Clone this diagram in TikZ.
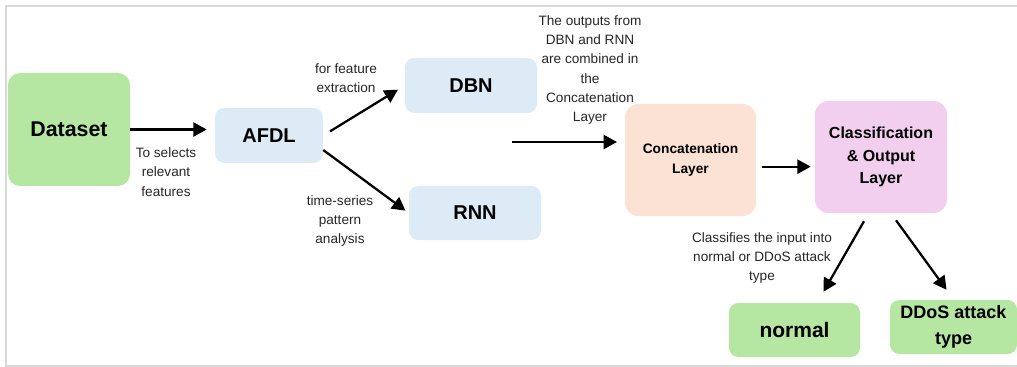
\documentclass[tikz,border=0pt]{standalone}
\usepackage{fontspec}
\setmainfont{Liberation Sans}
\usetikzlibrary{arrows.meta, positioning, calc}
\definecolor{boxgreen}{HTML}{B5E6A2}
\definecolor{boxblue}{HTML}{DDEBF7}
\definecolor{boxpeach}{HTML}{FBE2D5}
\definecolor{boxpink}{HTML}{F2CEEF}
\definecolor{framegray}{HTML}{D9D9D9}

\begin{document}
\begin{tikzpicture}[x=0.75pt, y=-0.75pt,
  box/.style={rounded corners=7pt, align=center, inner sep=0pt},
  arr/.style={-{Triangle[length=10pt,width=10.5pt]}, line width=1.7pt},
  lbl/.style={align=center, text=black!85, font={\fontsize{10.2}{14.5}\selectfont}}]
\useasboundingbox (0,0) rectangle (1017,367);
\draw[framegray, line width=1.5pt] (1017,6) -- (6,6) -- (6,366) -- (1017,366);

% boxes
\node[box, fill=boxgreen, rounded corners=9pt, minimum width=91.5pt, minimum height=84.75pt,
  font={\bfseries\fontsize{16}{19}\selectfont}] (dataset) at (69,129.5) {Dataset};
\node[box, fill=boxblue, minimum width=81pt, minimum height=41.25pt,
  font={\bfseries\fontsize{15}{18}\selectfont}] (afdl) at (269,135.5) {AFDL};
\node[box, fill=boxblue, minimum width=99pt, minimum height=41.25pt,
  font={\bfseries\fontsize{15}{18}\selectfont}] (dbn) at (471,85.5) {DBN};
\node[box, fill=boxblue, minimum width=99pt, minimum height=40.5pt,
  font={\bfseries\fontsize{15}{18}\selectfont}] (rnn) at (475,213) {RNN};
\node[box, fill=boxpeach, rounded corners=10pt, minimum width=98.25pt, minimum height=84pt,
  font={\bfseries\fontsize{10.3}{14.5}\selectfont}] (concat) at (690.5,160) {Concatenation\\Layer};
\node[box, fill=boxpink, rounded corners=10pt, minimum width=99pt, minimum height=84pt,
  font={\bfseries\fontsize{12}{17}\selectfont}] (class) at (881,157) {Classification\\\& Output\\Layer};
\node[box, fill=boxgreen, minimum width=98.25pt, minimum height=40.5pt,
  font={\bfseries\fontsize{15.75}{19}\selectfont}] (normal) at (794.5,330) {normal};
\node[box, fill=boxgreen, minimum width=95.25pt, minimum height=40.5pt,
  font={\bfseries\fontsize{13.5}{20}\selectfont}] (ddos) at (953.5,327) {DDoS attack\\type};

% labels
\node[lbl] (sellbl) at (166,172) {To selects\\relevant\\features};
\node[lbl] (featlbl) at (346,78) {for feature\\extraction};
\node[lbl] (tslbl) at (340,221) {time-series\\pattern\\analysis};
\node[lbl] (comblbl) at (590,70) {The outputs from\\DBN and RNN\\are combined in\\the\\Concatenation\\Layer};
\node[lbl] (clflbl) at (762,258) {Classifies the input into\\normal or DDoS attack\\type};

% arrows
\coordinate (midin) at (512,142);
\coordinate (midout) at (617,142);
\draw[arr, shorten >=6pt] (dataset.east) -- (dataset.east -| afdl.west);
\draw[arr, shorten <=6pt, shorten >=6pt] (afdl.east) -- (dbn.west);
\draw[arr, shorten >=3pt] (afdl.-15) -- (rnn.west);
\draw[arr] (midin) -- (midout);
\draw[arr, shorten <=4pt, shorten >=3pt] ([yshift=-5]concat.east) -- ([yshift=-5]concat.east -| class.west);
\draw[arr] ([shift={(-17,8)}]class.south) -- ([shift={(29,-11)}]normal.north);
\draw[arr] ([shift={(15,7)}]class.south) -- ([shift={(-7,-10)}]ddos.north);
\end{tikzpicture}
\end{document}
